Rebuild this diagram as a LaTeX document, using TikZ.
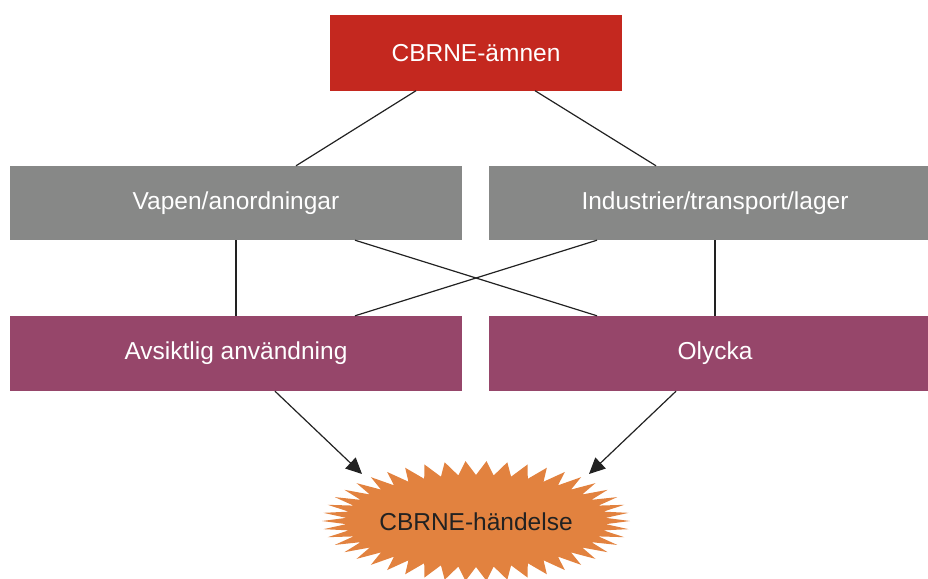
\documentclass[tikz,border=0pt]{standalone}
\usepackage{fontspec}
\setmainfont{Liberation Sans}
\usetikzlibrary{arrows.meta}
\definecolor{cred}{HTML}{C4281F}
\definecolor{cgray}{HTML}{878887}
\definecolor{cpurple}{HTML}{96466A}
\definecolor{corange}{HTML}{E2823F}
\definecolor{cline}{HTML}{222222}
\tikzset{
  box/.style={draw=none, inner sep=0pt, text=white, font=\fontsize{24.5}{29}\selectfont},
  redbox/.style={box, fill=cred, minimum width=292pt, minimum height=75pt},
  graybox/.style={box, fill=cgray, minimum width=452pt, minimum height=74pt},
  purplebox/.style={box, fill=cpurple, minimum width=452pt, minimum height=75pt},
  conn/.style={draw=cline, line width=1.2pt},
  arr/.style={conn, -{Triangle[length=16pt 0 0,width=15pt 0 0]}},
  burst/.style={fill=corange},
}
\begin{document}
\begin{tikzpicture}[x=1pt,y=-1pt]
\useasboundingbox (0,0) rectangle (928,578);
\clip (0,0) rectangle (928,578);
\node[redbox] (red) at (476,53) {CBRNE-ämnen};
\node[graybox] (gl) at (236,203) {Vapen/anordningar};
\node[graybox] (gr) at (715,203) {Industrier/transport/lager};
\node[purplebox] (pl) at (236,353.5) {Avsiktlig användning};
\node[purplebox] (pr) at (715,353.5) {Olycka};
\fill[burst] (630,521)
  \foreach \i in {1,...,91} {
    -- ({476+(142+12*cos(mod(\i,2)*180))*cos(\i*3.913043)},
        {521+(53+7*cos(mod(\i,2)*180))*sin(\i*3.913043)})
  } -- cycle;
\node[font=\fontsize{24.5}{29}\selectfont, text=cline] (ev) at (476,522) {CBRNE-händelse};
\coordinate (evl) at (362,474);
\coordinate (evr) at (589,474);
\draw[conn] ([xshift=-60pt]red.south) -- ([xshift=60pt]gl.north);
\draw[conn] ([xshift=59pt]red.south) -- ([xshift=-59pt]gr.north);
\draw[conn] (gl.south) -- (pl.north);
\draw[conn] (gr.south) -- (pr.north);
\draw[conn] ([xshift=119pt]gl.south) -- ([xshift=-118pt]pr.north);
\draw[conn] ([xshift=-118pt]gr.south) -- ([xshift=119pt]pl.north);
\draw[arr] ([xshift=39pt]pl.south) -- (evl);
\draw[arr] ([xshift=-39pt]pr.south) -- (evr);
\end{tikzpicture}
\end{document}
